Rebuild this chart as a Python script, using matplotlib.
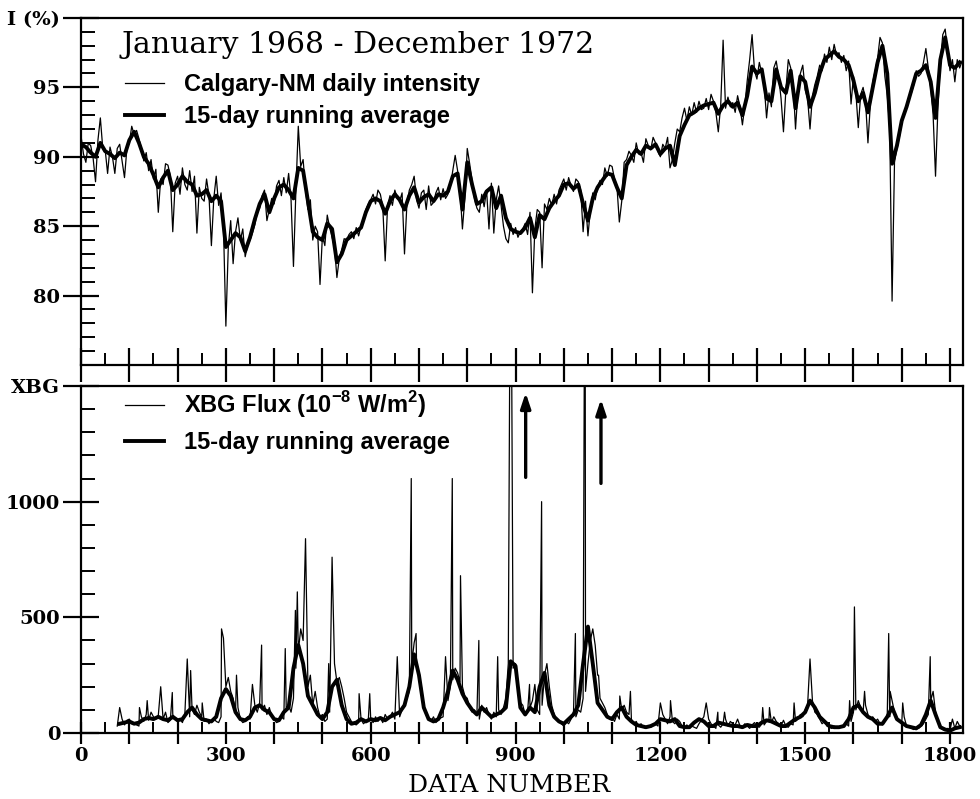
import numpy as np
import matplotlib
matplotlib.use("Agg")
import matplotlib.pyplot as plt
from matplotlib.ticker import MultipleLocator, FixedLocator, FuncFormatter

# ---------------- DATA ----------------
# Calgary neutron monitor, daily intensity (%), sampled every 5 data numbers from 0
nm_daily = [
    91.5, 90.2, 89.6, 91.0, 90.8, 89.9, 88.2, 91.2, 92.8, 90.6, 90.5, 88.8, 90.7, 90.0, 88.8, 90.6, 90.9, 89.7, 88.5, 90.6,
    91.0, 92.2, 91.6, 91.9, 91.3, 90.6, 89.7, 90.3, 89.0, 89.8, 88.4, 89.1, 86.0, 88.4, 88.0, 89.5, 89.4, 88.6, 84.6, 88.1,
    88.6, 87.3, 89.2, 88.0, 87.6, 89.0, 87.5, 88.6, 84.5, 87.8, 87.0, 86.8, 88.4, 87.2, 83.6, 87.0, 88.6, 86.5, 87.4, 85.0,
    77.8, 83.5, 85.4, 82.3, 84.6, 85.6, 84.0, 84.8, 82.8, 83.6, 84.0, 84.5, 85.1, 86.0, 86.3, 87.2, 87.6, 85.4, 86.2, 87.0,
    86.6, 87.9, 88.3, 87.2, 88.5, 87.4, 88.8, 86.9, 82.1, 87.5, 92.2, 89.3, 89.8, 87.6, 86.2, 86.9, 84.0, 85.0, 84.6, 80.8,
    84.3, 83.6, 85.8, 84.9, 84.2, 83.5, 81.3, 82.7, 83.3, 84.1, 84.0, 84.4, 84.6, 84.1, 84.9, 84.3, 85.0, 85.6, 86.2, 86.6,
    86.9, 87.3, 86.6, 87.6, 87.3, 86.4, 82.5, 86.5, 87.2, 86.5, 87.6, 87.0, 86.8, 87.4, 83.0, 86.6, 87.6, 88.0, 88.6, 86.9,
    86.3, 87.4, 87.6, 86.2, 87.9, 86.5, 86.7, 87.4, 87.8, 86.9, 87.7, 87.0, 87.3, 87.9, 89.0, 90.1, 89.0, 87.6, 84.8, 87.0,
    90.6, 89.5, 88.3, 87.0, 86.3, 86.0, 87.3, 86.4, 87.6, 84.8, 88.1, 84.5, 86.9, 87.9, 86.5, 85.0, 84.1, 83.8, 85.2, 84.4,
    84.9, 84.2, 84.6, 84.8, 85.2, 84.4, 86.0, 80.2, 84.8, 86.2, 86.0, 82.0, 86.6, 86.2, 87.0, 86.5, 87.3, 86.6, 87.6, 88.0,
    88.4, 87.6, 88.5, 87.9, 87.5, 88.4, 88.2, 87.6, 84.6, 86.8, 84.3, 86.2, 87.4, 86.9, 87.8, 88.3, 88.0, 89.2, 88.6, 89.4,
    89.3, 88.4, 87.9, 85.3, 86.8, 89.6, 89.8, 90.4, 90.1, 89.6, 91.0, 90.2, 90.3, 89.6, 91.3, 90.8, 90.5, 91.4, 91.0, 90.4,
    90.0, 90.9, 90.6, 91.4, 89.2, 89.8, 91.0, 92.0, 91.8, 92.8, 93.5, 92.6, 93.6, 93.0, 93.9, 93.2, 94.0, 93.4, 93.5, 94.2,
    93.4, 94.5, 94.0, 93.2, 91.8, 93.7, 98.4, 93.5, 94.3, 93.6, 93.9, 93.2, 94.4, 93.6, 92.3, 93.7, 95.5, 97.0, 98.8, 96.2,
    95.6, 96.8, 96.0, 95.2, 92.8, 94.6, 93.6, 96.4, 96.9, 95.8, 94.2, 91.8, 94.8, 97.0, 96.4, 95.3, 92.0, 94.8, 96.0, 96.6,
    94.8, 94.2, 92.0, 94.4, 95.2, 95.8, 96.6, 96.2, 97.4, 96.8, 97.9, 97.0, 98.1, 97.3, 97.5, 96.8, 97.3, 96.2, 96.9, 93.8,
    95.8, 94.6, 92.1, 94.5, 95.0, 94.0, 91.0, 93.8, 95.4, 96.2, 97.1, 98.6, 98.2, 95.8, 94.4, 92.2, 79.6, 89.6, 90.6, 91.4,
    92.4, 93.2, 93.5, 94.2, 94.6, 95.2, 96.2, 95.8, 96.0, 96.8, 97.8, 96.4, 95.0, 93.0, 88.6, 93.6, 96.8, 98.8, 99.2, 97.6,
    96.2, 97.0, 95.4, 97.0, 96.4, 96.9,
]
nm_daily_start, nm_daily_step = 0, 5

# 15-day running average (%), every 10 data numbers from 0
nm_avg = [
    90.9, 90.7, 90.3, 90.0, 91.0, 90.4, 90.2, 89.9, 90.3, 90.1,
    91.2, 91.8, 91.0, 90.0, 89.5, 88.7, 87.8, 88.5, 89.0, 87.6,
    88.0, 88.6, 88.2, 88.0, 87.2, 87.3, 87.6, 86.8, 87.2, 86.8,
    83.5, 84.0, 84.5, 84.2, 83.2, 84.2, 85.5, 86.6, 87.3, 86.0,
    87.0, 87.8, 88.0, 87.6, 87.0, 89.2, 89.0, 86.8, 84.6, 84.2,
    84.0, 85.2, 84.8, 82.4, 83.0, 84.0, 84.3, 84.6, 84.9, 86.0,
    86.8, 87.0, 86.8, 85.9, 86.8, 87.3, 86.9, 86.2, 87.2, 87.8,
    86.7, 87.1, 87.3, 86.8, 87.3, 87.2, 87.5, 88.6, 88.8, 86.2,
    89.6, 88.0, 86.6, 86.8, 87.5, 87.8, 86.3, 87.2, 85.6, 84.8,
    84.6, 84.5, 84.9, 85.6, 84.2, 85.8, 85.5, 86.3, 86.8, 87.2,
    88.0, 88.1, 87.7, 88.0, 86.6, 85.4, 87.0, 87.8, 88.3, 88.8,
    88.7, 87.8, 87.0, 89.4, 90.0, 90.5, 90.2, 90.8, 90.6, 90.9,
    90.2, 90.6, 90.8, 89.4, 91.5, 92.3, 93.0, 93.2, 93.5, 93.7,
    93.8, 93.9, 93.1, 93.7, 94.0, 93.6, 93.9, 93.0, 94.4, 96.5,
    96.0, 96.3, 94.2, 94.0, 96.3, 95.0, 94.6, 96.2, 93.5, 95.8,
    95.4, 93.6, 94.6, 96.0, 97.0, 97.3, 97.6, 97.2, 97.0, 96.6,
    95.5, 94.0, 94.6, 93.2, 95.0, 96.8, 98.0, 96.0, 89.5, 90.8,
    92.6, 93.6, 94.8, 96.0, 96.2, 96.6, 95.4, 92.8, 97.0, 98.6,
    96.6, 96.4, 96.8,
]
nm_avg_start, nm_avg_step = 0, 10

# XBG flux (1e-8 W/m2), every 5 data numbers from 75
xbg_daily = [
    30, 50, 60, 35, 55,
    60, 40, 45, 35, 30, 70, 50, 80, 55, 90, 70, 60, 75, 50, 60, 90, 45, 55, 80, 60,
    50, 60, 45, 80, 55, 70, 100, 80, 120, 90, 70, 50, 60, 40, 55, 65, 50, 45, 70, 80,
    200, 240, 180, 150, 90, 110, 60, 45, 50, 70, 60, 80, 120, 90, 130, 100, 120, 80, 110, 70,
    60, 45, 50, 70, 60, 110, 120, 90, 150, 280, 350, 450, 400, 300, 200, 250, 120, 180, 110, 70,
    80, 50, 60, 90, 110, 300, 220, 240, 200, 150, 90, 70, 50, 40, 35, 45, 60, 40, 50, 55,
    60, 45, 70, 50, 65, 45, 80, 60, 70, 90, 60, 80, 70, 100, 120, 150, 180, 300, 390, 300,
    250, 200, 120, 90, 60, 50, 70, 45, 55, 65, 70, 90, 140, 200, 230, 280, 260, 220, 200, 160,
    150, 110, 90, 100, 80, 60, 120, 90, 110, 80, 60, 90, 70, 100, 80, 110, 150, 300, 330, 280,
    300, 200, 110, 120, 80, 90, 110, 140, 210, 100, 80, 120, 250, 300, 200, 120, 80, 60, 50, 40,
    30, 50, 40, 60, 80, 70, 100, 90, 150, 180, 300, 400, 450, 380, 250, 150, 130, 110, 80, 60,
    70, 50, 80, 60, 100, 120, 90, 80, 60, 40, 50, 30, 40, 25, 20, 30, 25, 35, 40, 30,
    50, 80, 60, 40, 70, 50, 40, 60, 50, 30, 25, 35, 20, 30, 25, 20, 40, 55, 70, 50,
    60, 40, 30, 20, 35, 25, 40, 60, 30, 50, 40, 35, 60, 30, 25, 40, 30, 20, 35, 45,
    30, 25, 40, 35, 50, 60, 45, 70, 50, 40, 30, 55, 30, 25, 40, 35, 50, 60, 80, 70,
    100, 120, 180, 140, 90, 80, 60, 40, 50, 30, 25, 20, 30, 25, 20, 30, 35, 40, 30, 50,
    90, 100, 140, 110, 90, 120, 80, 60, 70, 50, 60, 40, 35, 50, 80, 70, 140, 90, 60, 50,
    40, 70, 30, 25, 20, 15, 25, 20, 30, 40, 60, 80, 140, 180, 90, 50, 25, 15, 10, 20,
    15, 60, 20, 50, 30, 25,
]
xbg_daily_start, xbg_daily_step = 75, 5

# Individual XBG flare days (data number, flux); values > 1500 are off scale
xbg_spike_days = [80, 121, 137, 165, 189, 220, 227, 251, 291, 295, 322, 355, 374, 423, 444, 448,
                  465, 513, 520, 576, 598, 655, 684, 694, 755, 769, 786, 824, 863, 890, 911, 929,
                  954, 1024, 1044, 1072, 1116, 1138, 1200, 1221, 1295, 1319, 1333, 1412, 1426,
                  1477, 1510, 1592, 1602, 1623, 1673, 1676, 1702, 1759]
xbg_spike_vals = [110, 110, 140, 200, 175, 320, 270, 130, 450, 410, 250, 210, 380, 365, 530, 610,
                  840, 300, 760, 170, 170, 330, 1100, 430, 330, 1100, 680, 400, 330, 2500, 130, 210,
                  1000, 430, 2500, 250, 160, 180, 130, 140, 130, 90, 90, 110, 110,
                  130, 320, 140, 545, 180, 430, 180, 130, 330]

# XBG 15-day running average, every 10 data numbers from 80
xbg_avg = [
    40, 45,
    50, 40, 45, 60, 65, 60, 70, 60, 55, 70,
    55, 60, 90, 110, 80, 60, 55, 50, 70, 150,
    190, 160, 90, 60, 55, 70, 110, 120, 100, 90,
    60, 55, 90, 110, 280, 380, 300, 160, 120, 80,
    60, 90, 200, 230, 120, 60, 40, 45, 60, 50,
    60, 55, 65, 55, 70, 80, 90, 120, 200, 340,
    250, 110, 60, 50, 60, 110, 180, 270, 230, 170,
    130, 100, 80, 110, 90, 70, 80, 90, 110, 310,
    290, 110, 80, 110, 90, 200, 260, 120, 70, 50,
    40, 60, 80, 120, 300, 460, 300, 130, 100, 70,
    60, 90, 110, 70, 50, 35, 30, 25, 30, 40,
    60, 55, 50, 60, 30, 25, 25, 45, 60, 50,
    30, 30, 45, 40, 35, 30, 30, 25, 35, 30,
    30, 45, 55, 50, 40, 30, 30, 45, 60, 70,
    90, 140, 110, 70, 50, 30, 25, 25, 30, 60,
    110, 120, 90, 70, 60, 40, 40, 70, 110, 60,
    45, 30, 25, 20, 35, 80, 140, 80, 25, 15,
    10, 20, 25,
]
xbg_avg_start, xbg_avg_step = 80, 10

# Arrows marking off-scale values (data number, from, to)
arrow_x = [921, 1077]
arrow_y0 = [1105, 1079]
arrow_y1 = [1471, 1443]

title_text = "January 1968 - December 1972"
top_labels = ["Calgary-NM daily intensity", "15-day running average"]
bot_labels = ["XBG Flux (10$^{\\mathbf{-8}}$ W/m$^{\\mathbf{2}}$)", "15-day running average"]
x_max = 1827

# ---------------- PLOT ----------------
plt.rcParams['font.family'] = ['DejaVu Serif']
plt.rcParams['mathtext.fontset'] = 'custom'
plt.rcParams['mathtext.rm'] = 'Liberation Sans:bold'
plt.rcParams['mathtext.bf'] = 'Liberation Sans:bold'

fig = plt.figure(figsize=(9.8, 7.99), dpi=100)
ax1 = fig.add_axes([0.0827, 0.5432, 0.9, 0.4343])
ax2 = fig.add_axes([0.0827, 0.0826, 0.9, 0.4343])

def xs(start, step, n):
    return start + step * np.arange(n)

# top panel
x_nd = xs(nm_daily_start, nm_daily_step, len(nm_daily))
x_na = xs(nm_avg_start, nm_avg_step, len(nm_avg))
l1, = ax1.plot(x_nd, nm_daily, color='black', lw=0.9)
l2, = ax1.plot(x_na, nm_avg, color='black', lw=2.8)

# bottom panel
x_xd = list(xs(xbg_daily_start, xbg_daily_step, len(xbg_daily)))
pts = dict(zip([int(v) for v in x_xd], xbg_daily))
for d, v in zip(xbg_spike_days, xbg_spike_vals):
    pts[d] = v
xd_sorted = sorted(pts)
m1, = ax2.plot(xd_sorted, [pts[d] for d in xd_sorted], color='black', lw=0.9)
x_xa = xs(xbg_avg_start, xbg_avg_step, len(xbg_avg))
m2, = ax2.plot(x_xa, xbg_avg, color='black', lw=2.8)

for xa, y0, y1 in zip(arrow_x, arrow_y0, arrow_y1):
    ax2.annotate("", xy=(xa, y1), xytext=(xa, y0),
                 arrowprops=dict(arrowstyle='-|>,head_length=0.9,head_width=0.3',
                                 color='black', lw=2.4, shrinkA=0, shrinkB=0))

tick_font = dict(family='DejaVu Serif', weight='bold', size=14)

for ax in (ax1, ax2):
    ax.set_xlim(0, x_max)
    for s in ax.spines.values():
        s.set_linewidth(1.6)
    ax.xaxis.set_major_locator(MultipleLocator(100))
    ax.xaxis.set_minor_locator(MultipleLocator(50))
    ax.tick_params(axis='y', which='major', direction='inout', length=26, width=1.6, pad=2)
    ax.tick_params(axis='y', which='minor', direction='in', length=10, width=1.4)

ax1.set_ylim(75, 100)
ax1.yaxis.set_major_locator(FixedLocator([80, 85, 90, 95, 100]))
ax1.yaxis.set_major_formatter(FuncFormatter(lambda v, p: "I (%)" if v >= 100 else f"{v:.0f}"))
ax1.yaxis.set_minor_locator(MultipleLocator(1))
ax1.tick_params(axis='x', which='major', direction='inout', length=25, width=1.6, labelbottom=False)
ax1.tick_params(axis='x', which='minor', direction='in', length=9, width=1.4)

ax2.set_ylim(0, 1500)
ax2.yaxis.set_major_locator(FixedLocator([0, 500, 1000, 1500]))
ax2.yaxis.set_major_formatter(FuncFormatter(lambda v, p: "XBG" if v >= 1500 else f"{v:.0f}"))
ax2.yaxis.set_minor_locator(MultipleLocator(100))
ax2.xaxis.set_major_formatter(FuncFormatter(lambda v, p: f"{v:.0f}" if int(round(v)) % 300 == 0 else ""))
ax2.tick_params(axis='x', which='major', direction='inout', length=16, width=1.6, pad=2)
ax2.tick_params(axis='x', which='minor', direction='in', length=8, width=1.4)

for ax in (ax1, ax2):
    for lab in ax.get_yticklabels() + ax.get_xticklabels():
        lab.set_fontproperties(tick_font)

fig.text(509 / 980, 1 - 786 / 799, "DATA NUMBER", ha='center', va='center',
         family='DejaVu Serif', size=18)

ax1.text(0.046, 0.922, title_text, transform=ax1.transAxes, ha='left', va='center',
         family='DejaVu Serif', size=21.5)

leg_font = dict(family='Liberation Sans', weight='bold', size=17)
ax1.legend([l1, l2], top_labels, loc='upper left', bbox_to_anchor=(0.05, 0.842),
           frameon=False, prop=leg_font, handlelength=1.65, handletextpad=0.85,
           labelspacing=0.38, borderaxespad=0, borderpad=0)
ax2.legend([m1, m2], bot_labels, loc='upper left', bbox_to_anchor=(0.05, 0.99),
           frameon=False, prop=leg_font, handlelength=1.65, handletextpad=0.85,
           labelspacing=0.45, borderaxespad=0, borderpad=0)

fig.savefig("out.png", dpi=100)
